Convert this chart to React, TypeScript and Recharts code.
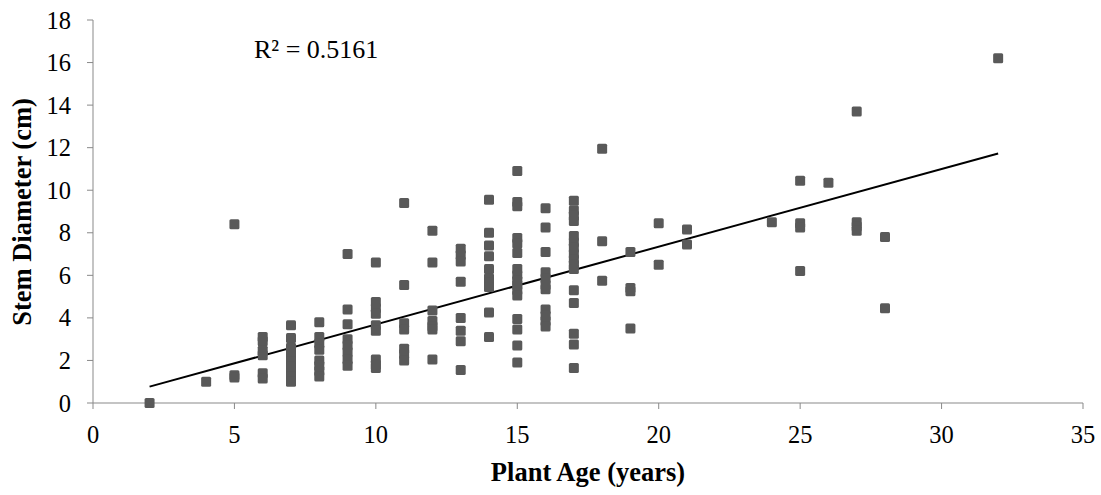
import React from "react"
import { ScatterChart, Scatter, XAxis, YAxis, ReferenceLine } from "recharts"

const FONT = "'Liberation Serif', 'Times New Roman', serif"

// plant ages sampled, and the stem diameters (cm) measured at each age
const sampleAges = [2, 4, 5, 6, 7, 8, 9, 10, 11, 12, 13, 14, 15, 16, 17, 18, 19, 20, 21, 24, 25, 26, 27, 28, 32]
const diametersPerAge = [
  [0.0],
  [1.0],
  [8.4, 1.3, 1.2],
  [3.1, 2.9, 2.45, 2.25, 1.4, 1.15],
  [3.65, 3.05, 2.6, 2.4, 2.2, 1.95, 1.7, 1.45, 1.25, 1.0],
  [3.8, 3.1, 2.8, 2.5, 2.0, 1.75, 1.5, 1.25],
  [7.0, 4.4, 3.7, 3.0, 2.7, 2.4, 2.05, 1.75],
  [6.6, 4.75, 4.45, 4.2, 3.65, 3.4, 2.05, 1.8, 1.65],
  [9.4, 5.55, 3.75, 3.45, 2.55, 2.3, 2.0],
  [8.1, 6.6, 4.35, 3.85, 3.6, 3.45, 2.05],
  [7.25, 6.95, 6.65, 5.7, 4.0, 3.4, 2.9, 1.55],
  [9.55, 8.0, 7.4, 6.9, 6.3, 5.85, 5.65, 5.45, 4.25, 3.1],
  [10.9, 9.45, 9.25, 7.75, 7.5, 7.05, 6.3, 6.0, 5.75, 5.55, 5.3, 5.05, 3.95, 3.45, 2.7, 1.9],
  [9.15, 8.25, 7.1, 6.15, 5.85, 5.55, 5.35, 4.4, 4.1, 3.85, 3.6],
  [9.5, 9.05, 8.8, 8.55, 7.85, 7.55, 7.3, 7.0, 6.75, 6.5, 6.3, 5.3, 4.7, 3.25, 2.75, 1.65],
  [11.95, 7.6, 5.75],
  [7.1, 5.4, 5.25, 3.5],
  [8.45, 6.5],
  [8.15, 7.45],
  [8.5],
  [10.45, 8.45, 8.25, 6.2],
  [10.35],
  [13.7, 8.5, 8.3, 8.1],
  [7.8, 4.45],
  [16.2],
]

const xTicks = [0, 5, 10, 15, 20, 25, 30, 35]
const yTicks = [0, 2, 4, 6, 8, 10, 12, 14, 16, 18]

// linear trendline as drawn (ends)
const trendStart = { x: 2, y: 0.77 }
const trendEnd = { x: 32, y: 11.73 }
const rSquared = "R² = 0.5161"

const points = sampleAges.flatMap((age, i) =>
  diametersPerAge[i].map((d) => ({ age, diameter: d }))
)

const SquareMarker = (props: any) => {
  const { cx, cy } = props
  if (cx == null || cy == null) return null
  return <rect x={cx - 5} y={cy - 5} width={10} height={10} rx={1.5} fill="#595959" />
}

const XTick = (props: any) => (
  <text x={props.x} y={props.y} dy={17} textAnchor="middle" fontSize={24.5} fontFamily={FONT} fill="#000">
    {props.payload.value}
  </text>
)

const YTick = (props: any) => (
  <text x={props.x} y={props.y} dy={8.5} textAnchor="end" fontSize={24.5} fontFamily={FONT} fill="#000">
    {props.payload.value}
  </text>
)

const XTitle = (props: any) => {
  const vb = props.viewBox || { x: 93, y: 403, width: 990, height: 60 }
  return (
    <text x={vb.x + vb.width / 2} y={481} textAnchor="middle" fontSize={26.5} fontWeight="bold" fontFamily={FONT} fill="#000">
      Plant Age (years)
    </text>
  )
}

const YTitle = () => (
  <text transform="translate(31, 212) rotate(-90)" textAnchor="middle" fontSize={26.5} fontWeight="bold" fontFamily={FONT} fill="#000">
    Stem Diameter (cm)
  </text>
)

export default function App() {
  return (
    <div style={{ position: "absolute", left: 0, top: 0, width: 1101, height: 495, background: "#fff", fontFamily: FONT }}>
      <ScatterChart width={1101} height={495} margin={{ top: 20, right: 18, bottom: 32, left: 0 }}>
        <XAxis
          type="number"
          dataKey="age"
          domain={[0, 35]}
          ticks={xTicks}
          interval={0}
          height={60}
          stroke="#898989"
          tickSize={6}
          tickMargin={17}
          tick={XTick}
          label={XTitle}
        />
        <YAxis
          type="number"
          dataKey="diameter"
          domain={[0, 18]}
          ticks={yTicks}
          interval={0}
          width={93}
          stroke="#898989"
          tickSize={6}
          tickMargin={16}
          tick={YTick}
          label={YTitle}
        />
        <Scatter data={points} shape={SquareMarker} isAnimationActive={false} />
        <ReferenceLine segment={[trendStart, trendEnd]} stroke="#000" strokeWidth={2} ifOverflow="visible" />
      </ScatterChart>
      <svg width={1101} height={495} style={{ position: "absolute", left: 0, top: 0, pointerEvents: "none" }}>
        <text x={254} y={58} fontSize={26} fontFamily={FONT} fill="#000">
          {rSquared}
        </text>
      </svg>
    </div>
  )
}
